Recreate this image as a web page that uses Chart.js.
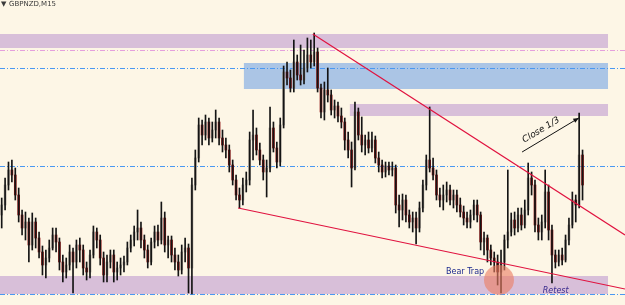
<!DOCTYPE html>
<html lang="en">
<head>
    <meta charset="UTF-8">
    <title>GBPNZD,M15</title>
    <script src="https://cdn.jsdelivr.net/npm/chart.js"></script>
    <style>
        html, body { margin: 0; padding: 0; background: #fdf6e6; overflow: hidden; }
        canvas { display: block; }
    </style>
</head>
<body>
    <canvas id="priceChart" width="625" height="305"></canvas>

    <script>
        // candle data, M15 bars
        var opens = [2.0785,2.0795,2.0815,2.0830,2.0825,2.0805,2.0785,2.0772,2.0778,2.0755,2.0778,2.0762,2.0748,2.0735,2.0742,2.0752,2.0765,2.0758,2.0738,2.0728,
            2.0735,2.0748,2.0738,2.0755,2.0750,2.0732,2.0728,2.0745,2.0768,2.0760,2.0742,2.0725,2.0738,2.0745,2.0728,2.0732,2.0735,2.0738,2.0752,2.0760,
            2.0768,2.0772,2.0760,2.0750,2.0738,2.0758,2.0768,2.0760,2.0782,2.0755,2.0760,2.0745,2.0738,2.0730,2.0748,2.0752,2.0732,2.0815,2.0842,2.0875,
            2.0865,2.0878,2.0862,2.0870,2.0878,2.0862,2.0855,2.0850,2.0835,2.0820,2.0805,2.0800,2.0815,2.0820,2.0860,2.0865,2.0850,2.0840,2.0828,2.0832,
            2.0872,2.0852,2.0838,2.0875,2.0928,2.0922,2.0912,2.0938,2.0925,2.0920,2.0932,2.0945,2.0938,2.0948,2.0912,2.0888,2.0910,2.0905,2.0890,2.0894,
            2.0884,2.0878,2.0860,2.0850,2.0832,2.0888,2.0865,2.0855,2.0860,2.0852,2.0860,2.0842,2.0835,2.0828,2.0834,2.0830,2.0832,2.0795,2.0790,2.0800,
            2.0785,2.0778,2.0782,2.0772,2.0792,2.0815,2.0840,2.0832,2.0825,2.0805,2.0800,2.0805,2.0810,2.0800,2.0805,2.0795,2.0788,2.0782,2.0778,2.0785,
            2.0795,2.0785,2.0758,2.0762,2.0750,2.0742,2.0738,2.0728,2.0738,2.0760,2.0768,2.0780,2.0772,2.0785,2.0775,2.0790,2.0822,2.0815,2.0775,2.0768,
            2.0778,2.0808,2.0770,2.0745,2.0738,2.0745,2.0740,2.0760,2.0775,2.0800,2.0795,2.0845];
        var highs = [2.0802,2.0822,2.0838,2.0840,2.0832,2.0812,2.0790,2.0788,2.0782,2.0787,2.0782,2.0768,2.0754,2.0750,2.0760,2.0772,2.0772,2.0762,2.0745,2.0742,
            2.0755,2.0752,2.0760,2.0762,2.0755,2.0738,2.0750,2.0774,2.0772,2.0765,2.0748,2.0745,2.0750,2.0750,2.0738,2.0742,2.0744,2.0758,2.0765,2.0774,
            2.0790,2.0778,2.0765,2.0755,2.0762,2.0774,2.0775,2.0798,2.0788,2.0764,2.0764,2.0752,2.0745,2.0755,2.0762,2.0756,2.0822,2.0850,2.0882,2.0880,
            2.0885,2.0882,2.0878,2.0890,2.0882,2.0870,2.0862,2.0855,2.0840,2.0825,2.0812,2.0822,2.0828,2.0868,2.0890,2.0872,2.0857,2.0845,2.0840,2.0893,
            2.0878,2.0858,2.0882,2.0934,2.0938,2.0930,2.0960,2.0945,2.0955,2.0950,2.0962,2.0960,2.0967,2.0952,2.0916,2.0918,2.0932,2.0910,2.0900,2.0898,
            2.0892,2.0882,2.0868,2.0858,2.0898,2.0892,2.0883,2.0865,2.0868,2.0868,2.0864,2.0848,2.0840,2.0838,2.0838,2.0838,2.0835,2.0805,2.0806,2.0805,
            2.0790,2.0788,2.0788,2.0798,2.0820,2.0845,2.0893,2.0842,2.0830,2.0812,2.0815,2.0818,2.0815,2.0810,2.0810,2.0802,2.0794,2.0788,2.0790,2.0800,
            2.0800,2.0788,2.0768,2.0765,2.0755,2.0748,2.0745,2.0750,2.0765,2.0830,2.0787,2.0788,2.0792,2.0792,2.0800,2.0837,2.0828,2.0820,2.0782,2.0785,
            2.0830,2.0815,2.0775,2.0750,2.0750,2.0752,2.0765,2.0782,2.0808,2.0805,2.0887,2.0850];
        var lows = [2.0772,2.0790,2.0810,2.0818,2.0800,2.0778,2.0765,2.0760,2.0738,2.0750,2.0752,2.0742,2.0725,2.0722,2.0738,2.0750,2.0748,2.0730,2.0718,2.0722,
            2.0730,2.0707,2.0732,2.0738,2.0725,2.0720,2.0722,2.0742,2.0752,2.0735,2.0718,2.0718,2.0732,2.0718,2.0720,2.0725,2.0728,2.0735,2.0748,2.0754,
            2.0760,2.0752,2.0742,2.0732,2.0735,2.0752,2.0754,2.0756,2.0748,2.0742,2.0738,2.0730,2.0724,2.0726,2.0738,2.0707,2.0706,2.0810,2.0838,2.0855,
            2.0860,2.0855,2.0858,2.0862,2.0855,2.0848,2.0842,2.0828,2.0815,2.0800,2.0792,2.0795,2.0808,2.0815,2.0840,2.0845,2.0835,2.0820,2.0803,2.0828,
            2.0848,2.0832,2.0834,2.0872,2.0915,2.0908,2.0908,2.0920,2.0915,2.0916,2.0928,2.0932,2.0934,2.0908,2.0882,2.0880,2.0898,2.0885,2.0882,2.0878,
            2.0872,2.0850,2.0842,2.0813,2.0830,2.0860,2.0848,2.0845,2.0847,2.0848,2.0837,2.0828,2.0822,2.0823,2.0825,2.0824,2.0787,2.0773,2.0780,2.0778,
            2.0772,2.0768,2.0756,2.0768,2.0788,2.0810,2.0828,2.0820,2.0800,2.0793,2.0790,2.0798,2.0795,2.0792,2.0788,2.0783,2.0775,2.0772,2.0772,2.0780,
            2.0778,2.0750,2.0745,2.0738,2.0735,2.0728,2.0715,2.0707,2.0730,2.0752,2.0764,2.0765,2.0768,2.0770,2.0772,2.0785,2.0805,2.0768,2.0760,2.0760,
            2.0772,2.0760,2.0717,2.0732,2.0734,2.0735,2.0738,2.0755,2.0772,2.0778,2.0792,2.0800];
        var closes = [2.0795,2.0815,2.0830,2.0825,2.0805,2.0785,2.0772,2.0778,2.0755,2.0778,2.0762,2.0748,2.0735,2.0742,2.0752,2.0765,2.0758,2.0738,2.0728,2.0735,
            2.0748,2.0738,2.0755,2.0750,2.0732,2.0728,2.0745,2.0768,2.0760,2.0742,2.0725,2.0738,2.0745,2.0728,2.0732,2.0735,2.0738,2.0752,2.0760,2.0768,
            2.0772,2.0760,2.0750,2.0738,2.0758,2.0768,2.0760,2.0782,2.0755,2.0760,2.0745,2.0738,2.0730,2.0748,2.0752,2.0732,2.0815,2.0842,2.0875,2.0865,
            2.0878,2.0862,2.0870,2.0878,2.0862,2.0855,2.0850,2.0835,2.0820,2.0805,2.0800,2.0815,2.0820,2.0860,2.0865,2.0850,2.0840,2.0828,2.0832,2.0872,
            2.0852,2.0838,2.0875,2.0928,2.0922,2.0912,2.0938,2.0925,2.0920,2.0932,2.0945,2.0938,2.0948,2.0912,2.0888,2.0910,2.0905,2.0890,2.0894,2.0884,
            2.0878,2.0860,2.0850,2.0832,2.0888,2.0865,2.0855,2.0860,2.0852,2.0860,2.0842,2.0835,2.0828,2.0834,2.0830,2.0832,2.0795,2.0790,2.0800,2.0785,
            2.0778,2.0782,2.0772,2.0792,2.0815,2.0840,2.0832,2.0825,2.0805,2.0800,2.0805,2.0810,2.0800,2.0805,2.0795,2.0788,2.0782,2.0778,2.0785,2.0795,
            2.0785,2.0758,2.0762,2.0750,2.0742,2.0738,2.0728,2.0738,2.0760,2.0768,2.0780,2.0772,2.0785,2.0775,2.0790,2.0822,2.0815,2.0775,2.0768,2.0778,
            2.0808,2.0770,2.0745,2.0738,2.0745,2.0740,2.0760,2.0775,2.0800,2.0795,2.0845,2.0815];

        // zones (price from / to, bar index where they start)
        var zoneHigh = [2.0966, 2.0937, 2.0896, 2.0724];
        var zoneLow  = [2.0952, 2.0911, 2.0884, 2.0706];
        var zoneFrom = [-0.5, 71.3, 102.5, -0.5];
        var zoneTo = 178.5;
        // horizontal levels
        var levels = [2.0950, 2.0932, 2.0834, 2.0706];
        // trend lines: [index1, price1, index2, price2]
        var trendLines = [[91.6, 2.0966, 183.5, 2.0765], [69.6, 2.0792, 183.5, 2.0711]];

        // time labels (plus a few empty bars of chart shift on the right)
        var labels = [];
        var t = new Date(Date.UTC(2019, 2, 12, 4, 0));
        for (var i = 0; i < 184; i++) {
            labels.push(t.toISOString().slice(5, 16).replace('T', ' '));
            t = new Date(t.getTime() + 15 * 60000);
        }

        var wicks = [], bodies = [], bodyColors = [];
        for (var i = 0; i < closes.length; i++) {
            wicks.push([lows[i], highs[i]]);
            bodies.push([opens[i], closes[i]]);
            bodyColors.push(closes[i] >= opens[i] ? '#a59d94' : '#8e1212');
        }

        var overlay = {
            id: 'overlay',
            beforeDatasetsDraw: function (chart) {
                var ctx = chart.ctx, x = chart.scales.x, y = chart.scales.y, a = chart.chartArea;
                ctx.save();
                for (var i = 0; i < zoneHigh.length; i++) {
                    var x0 = x.getPixelForValue(zoneFrom[i]), x1 = x.getPixelForValue(zoneTo);
                    var y0 = y.getPixelForValue(zoneHigh[i]), y1 = y.getPixelForValue(zoneLow[i]);
                    ctx.fillStyle = i === 1 ? '#abc5e5' : '#d8bfd9';
                    ctx.fillRect(x0, y0, x1 - x0, y1 - y0);
                }
                ctx.lineWidth = 1;
                ctx.setLineDash([5, 2, 1, 2]);
                levels.forEach(function (lv, i) {
                    var py = Math.round(y.getPixelForValue(lv)) + 0.5;
                    ctx.strokeStyle = i === 0 ? '#e59fdc' : '#4a98f2';
                    ctx.beginPath();
                    ctx.moveTo(a.left, py);
                    ctx.lineTo(a.right, py);
                    ctx.stroke();
                });
                ctx.restore();
            },
            afterDatasetsDraw: function (chart) {
                var ctx = chart.ctx, x = chart.scales.x, y = chart.scales.y;
                ctx.save();
                // trend lines
                ctx.strokeStyle = '#e0123f';
                ctx.lineWidth = 1.2;
                trendLines.forEach(function (l) {
                    ctx.beginPath();
                    ctx.moveTo(x.getPixelForValue(l[0]), y.getPixelForValue(l[1]));
                    ctx.lineTo(x.getPixelForValue(l[2]), y.getPixelForValue(l[3]));
                    ctx.stroke();
                });
                // bear trap circle
                ctx.fillStyle = 'rgba(236, 126, 98, 0.62)';
                ctx.beginPath();
                ctx.arc(x.getPixelForValue(146.4), y.getPixelForValue(2.0720), 15, 0, Math.PI * 2);
                ctx.fill();

                // texts
                ctx.font = '8px "DejaVu Sans"';
                ctx.textBaseline = 'middle';
                ctx.fillStyle = '#1d2b8e';
                ctx.fillText('Bear Trap', x.getPixelForValue(130.8), y.getPixelForValue(2.0728));
                ctx.font = 'italic 8px "DejaVu Sans"';
                ctx.fillStyle = '#3b2c8e';
                ctx.fillText('Retest', x.getPixelForValue(159.3), y.getPixelForValue(2.0709));

                // close 1/3 arrow
                var ax0 = x.getPixelForValue(153.2), ay0 = y.getPixelForValue(2.0848);
                var ax1 = x.getPixelForValue(169.9), ay1 = y.getPixelForValue(2.0882);
                var ang = Math.atan2(ay1 - ay0, ax1 - ax0);
                ctx.strokeStyle = '#111';
                ctx.fillStyle = '#111';
                ctx.lineWidth = 1;
                ctx.beginPath();
                ctx.moveTo(ax0, ay0);
                ctx.lineTo(ax1, ay1);
                ctx.stroke();
                ctx.beginPath();
                ctx.moveTo(ax1, ay1);
                ctx.lineTo(ax1 - 6 * Math.cos(ang - 0.4), ay1 - 6 * Math.sin(ang - 0.4));
                ctx.lineTo(ax1 - 6 * Math.cos(ang + 0.4), ay1 - 6 * Math.sin(ang + 0.4));
                ctx.closePath();
                ctx.fill();

                ctx.translate(x.getPixelForValue(158.8), y.getPixelForValue(2.0870));
                ctx.rotate(ang);
                ctx.font = 'italic 9px "DejaVu Sans"';
                ctx.textAlign = 'center';
                ctx.fillText('Close 1/3', 0, 0);
                ctx.restore();

                // symbol title
                ctx.save();
                ctx.fillStyle = '#3a3a3a';
                ctx.font = '7px "DejaVu Sans"';
                ctx.textBaseline = 'middle';
                ctx.fillText('\u25BC', 1, 4);
                ctx.fillText('GBPNZD,M15', 9, 4);
                ctx.restore();
            }
        };

        var ctx = document.getElementById('priceChart').getContext('2d');
        var priceChart = new Chart(ctx, {
            type: 'bar',
            data: {
                labels: labels,
                datasets: [{
                    label: 'Wick',
                    data: wicks,
                    backgroundColor: '#141414',
                    barThickness: 1,
                    grouped: false
                }, {
                    label: 'Body',
                    data: bodies,
                    backgroundColor: bodyColors,
                    barThickness: 2,
                    grouped: false
                }]
            },
            options: {
                responsive: false,
                animation: false,
                layout: { padding: 0 },
                plugins: {
                    legend: { display: false },
                    tooltip: { enabled: false }
                },
                scales: {
                    x: { display: false, offset: true, grid: { display: false } },
                    y: { display: false, min: 2.0695, max: 2.1000 }
                }
            },
            plugins: [overlay]
        });
    </script>
</body>
</html>
